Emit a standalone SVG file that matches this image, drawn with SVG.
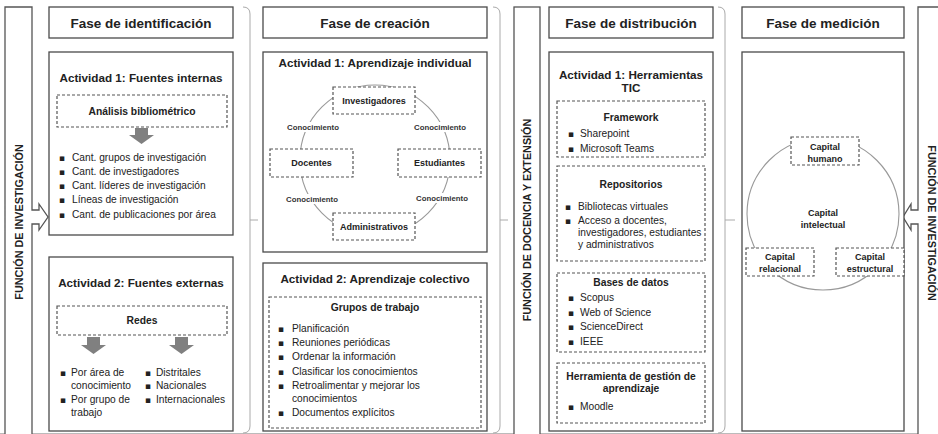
<svg xmlns="http://www.w3.org/2000/svg" width="938" height="434" viewBox="0 0 938 434">
<style>
.box{fill:#fff;stroke:#4a4a4a;stroke-width:1.3}
.dash{fill:#fff;stroke:#555;stroke-width:1.2;stroke-dasharray:3 2}
.band{fill:#fff;stroke:#555;stroke-width:1.3}
.brace{fill:none;stroke:#aaa;stroke-width:1}
.cir{fill:none;stroke:#999;stroke-width:1.1}
.arr{fill:#808080}
text{font-family:"Liberation Sans",Arial,sans-serif;fill:#222}
.hdr{font-size:13.5px;font-weight:bold;text-anchor:middle}
.ttl{font-size:11.7px;font-weight:bold;text-anchor:middle}
.lbl{font-size:10.3px;font-weight:bold;text-anchor:middle}
.txt{font-size:10.2px}
.node{font-size:9px;font-weight:bold;text-anchor:middle}
.sm{font-size:7.8px;font-weight:bold;text-anchor:middle;fill:#333}
.vert{font-size:10.8px;font-weight:bold;text-anchor:middle}
.bul{font-family:"DejaVu Sans",sans-serif;font-size:9px;text-anchor:middle}
</style>

<line x1="0" y1="433.5" x2="938" y2="433.5" stroke="#bbb" stroke-width="1"/>

<!-- Bands -->
<g id="band-left">
<path class="band" d="M5,7 H32 V210 H39 V204 L48,217 L39,230 V224 H32 V440 H5 Z"/>
<text class="vert" transform="translate(23,222) rotate(-90)">FUNCIÓN DE INVESTIGACIÓN</text>
</g>
<g id="band-middle">
<rect class="band" x="514" y="7" width="26" height="433"/>
<text class="vert" transform="translate(531,220) rotate(-90)">FUNCIÓN DE DOCENCIA Y EXTENSIÓN</text>
</g>
<g id="band-right">
<path class="band" d="M945,7 H918 V210 H911 V204 L903,217 L911,230 V224 H918 V440 H945 Z"/>
<text class="vert" transform="translate(928,223) rotate(90)">FUNCIÓN DE INVESTIGACIÓN</text>
</g>

<!-- Connectors (braces) -->
<g id="connectors">
<path class="brace" d="M243,7 Q250,7 250,14 V426 Q250,433 243,433 M250,220 H258"/>
<path class="brace" d="M493,7 Q500,7 500,14 V426 Q500,433 493,433 M500,220 H508"/>
<path class="brace" d="M718,7 Q725,7 725,14 V426 Q725,433 718,433 M725,220 H735"/>
</g>

<!-- Phase 1: identification -->
<g id="fase-identificacion">
<rect class="box" x="49" y="7" width="184" height="31"/>
<text class="hdr" x="141" y="28">Fase de identificación</text>
</g>
<g id="ident-act1">
<rect class="box" x="49" y="52" width="184" height="183"/>
<text class="ttl" x="141" y="82">Actividad 1: Fuentes internas</text>
<rect class="dash" x="57" y="95" width="170" height="32"/>
<text class="lbl" x="142" y="114.5">Análisis  bibliométrico</text>
<polygon class="arr" points="135,128 148,128 148,135 154,135 141.5,144 129,135 135,135"/>
<g class="txt">
<text class="bul" x="62" y="160.5">▪</text><text x="72" y="160.5">Cant. grupos de investigación</text>
<text class="bul" x="62" y="174.8">▪</text><text x="72" y="174.8">Cant. de investigadores</text>
<text class="bul" x="62" y="189.1">▪</text><text x="72" y="189.1">Cant. líderes de investigación</text>
<text class="bul" x="62" y="203.4">▪</text><text x="72" y="203.4">Líneas de investigación</text>
<text class="bul" x="62" y="217.7">▪</text><text x="72" y="217.7">Cant. de publicaciones por área</text>
</g>
</g>
<g id="ident-act2">
<rect class="box" x="49" y="257" width="184" height="174"/>
<text class="ttl" x="141" y="287">Actividad 2: Fuentes externas</text>
<rect class="dash" x="57" y="306" width="170" height="29"/>
<text class="lbl" x="142" y="323.5">Redes</text>
<polygon class="arr" points="87,337 100,337 100,345 106,345 93.5,354 81,345 87,345"/>
<polygon class="arr" points="175,337 188,337 188,345 194,345 181.5,354 169,345 175,345"/>
<g class="txt">
<text class="bul" x="63" y="375.5">▪</text><text x="71" y="375.5">Por área de</text>
<text x="71" y="389">conocimiento</text>
<text class="bul" x="63" y="402.5">▪</text><text x="71" y="402.5">Por grupo de</text>
<text x="71" y="416">trabajo</text>
<text class="bul" x="148" y="375.5">▪</text><text x="156" y="375.5">Distritales</text>
<text class="bul" x="148" y="389">▪</text><text x="156" y="389">Nacionales</text>
<text class="bul" x="148" y="402.5">▪</text><text x="156" y="402.5">Internacionales</text>
</g>
</g>

<!-- Phase 2: creation -->
<g id="fase-creacion">
<rect class="box" x="263" y="7" width="224" height="31"/>
<text class="hdr" x="375" y="28">Fase de creación</text>
</g>
<g id="crea-act1">
<rect class="box" x="263" y="52" width="224" height="200"/>
<text class="ttl" x="375" y="67">Actividad 1: Aprendizaje individual</text>
<circle class="cir" cx="375" cy="160" r="75"/>
<rect x="286" y="122" width="54" height="10" fill="#fff"/>
<rect x="413" y="122" width="54" height="10" fill="#fff"/>
<rect x="285" y="194" width="54" height="10" fill="#fff"/>
<rect x="415" y="193" width="54" height="10" fill="#fff"/>
<text class="sm" x="313" y="129.8">Conocimiento</text>
<text class="sm" x="440" y="129.8">Conocimiento</text>
<text class="sm" x="312" y="201.8">Conocimiento</text>
<text class="sm" x="442" y="200.8">Conocimiento</text>
</g>
<g id="node-investigadores"><rect class="dash" x="333" y="87" width="82" height="27"/><text class="node" x="374" y="103.8">Investigadores</text></g>
<g id="node-docentes"><rect class="dash" x="270" y="149" width="83" height="28"/><text class="node" x="311.5" y="166.2">Docentes</text></g>
<g id="node-estudiantes"><rect class="dash" x="398" y="149" width="83" height="28"/><text class="node" x="439.5" y="166.2">Estudiantes</text></g>
<g id="node-administrativos"><rect class="dash" x="333" y="213" width="82" height="27"/><text class="node" x="374" y="229.8">Administrativos</text></g>
<g id="crea-act2">
<rect class="box" x="263" y="263" width="224" height="168"/>
<text class="ttl" x="375" y="283">Actividad 2: Aprendizaje colectivo</text>
<rect class="dash" x="269" y="297" width="212" height="131"/>
<text class="lbl" x="375" y="310.5">Grupos de trabajo</text>
<g class="txt">
<text class="bul" x="281" y="331.5">▪</text><text x="292" y="331.5">Planificación</text>
<text class="bul" x="281" y="345.5">▪</text><text x="292" y="345.5">Reuniones periódicas</text>
<text class="bul" x="281" y="360">▪</text><text x="292" y="360">Ordenar la información</text>
<text class="bul" x="281" y="374.5">▪</text><text x="292" y="374.5">Clasificar los conocimientos</text>
<text class="bul" x="281" y="388.5">▪</text><text x="292" y="388.5">Retroalimentar y mejorar los</text>
<text x="292" y="401.5">conocimientos</text>
<text class="bul" x="281" y="416">▪</text><text x="292" y="416">Documentos explícitos</text>
</g>
</g>

<!-- Phase 3: distribution -->
<g id="fase-distribucion">
<rect class="box" x="549" y="7" width="164" height="31"/>
<text class="hdr" x="631" y="28">Fase de distribución</text>
</g>
<g id="dist-act1">
<rect class="box" x="549" y="52" width="164" height="379"/>
<text class="ttl" x="631" y="79">Actividad 1: Herramientas</text>
<text class="ttl" x="631" y="92">TIC</text>
<rect class="dash" x="557" y="101" width="148" height="56"/>
<text class="lbl" x="631" y="120.5">Framework</text>
<g class="txt">
<text class="bul" x="571" y="136.5">▪</text><text x="580" y="136.5">Sharepoint</text>
<text class="bul" x="571" y="151.5">▪</text><text x="580" y="151.5">Microsoft Teams</text>
</g>
<rect class="dash" x="557" y="166" width="148" height="95"/>
<text class="lbl" x="631" y="187.5">Repositorios</text>
<g class="txt">
<text class="bul" x="568" y="209.5">▪</text><text x="578" y="209.5">Bibliotecas virtuales</text>
<text class="bul" x="568" y="223.5">▪</text><text x="578" y="223.5">Acceso a docentes,</text>
<text x="578" y="235.5">investigadores, estudiantes</text>
<text x="578" y="247.5">y administrativos</text>
</g>
<rect class="dash" x="557" y="273" width="148" height="79"/>
<text class="lbl" x="631" y="285.5">Bases de datos</text>
<g class="txt">
<text class="bul" x="571" y="300.5">▪</text><text x="580" y="300.5">Scopus</text>
<text class="bul" x="571" y="315.5">▪</text><text x="580" y="315.5">Web of Science</text>
<text class="bul" x="571" y="330">▪</text><text x="580" y="330">ScienceDirect</text>
<text class="bul" x="571" y="344.5">▪</text><text x="580" y="344.5">IEEE</text>
</g>
<rect class="dash" x="557" y="363" width="148" height="60"/>
<text class="lbl" x="631" y="379.5">Herramienta de gestión de</text>
<text class="lbl" x="631" y="391.5">aprendizaje</text>
<g class="txt">
<text class="bul" x="571" y="409.5">▪</text><text x="580" y="409.5">Moodle</text>
</g>
</g>

<!-- Phase 4: measurement -->
<g id="fase-medicion">
<rect class="box" x="742" y="7" width="162" height="31"/>
<text class="hdr" x="823" y="28">Fase de medición</text>
</g>
<g id="med-box">
<rect class="box" x="742" y="52" width="162" height="379"/>
<circle class="cir" cx="823" cy="214" r="76"/>
<text class="node" x="823" y="216">Capital</text>
<text class="node" x="823" y="227.5">intelectual</text>
</g>
<g id="node-capital-humano"><rect class="dash" x="791" y="137" width="68" height="28"/><text class="node" x="825" y="150.2">Capital</text><text class="node" x="825" y="162">humano</text></g>
<g id="node-capital-relacional"><rect class="dash" x="746" y="248" width="68" height="28"/><text class="node" x="780" y="260.2">Capital</text><text class="node" x="780" y="271.5">relacional</text></g>
<g id="node-capital-estructural"><rect class="dash" x="836" y="248" width="68" height="28"/><text class="node" x="870" y="260.2">Capital</text><text class="node" x="870" y="271.5">estructural</text></g>
</svg>
